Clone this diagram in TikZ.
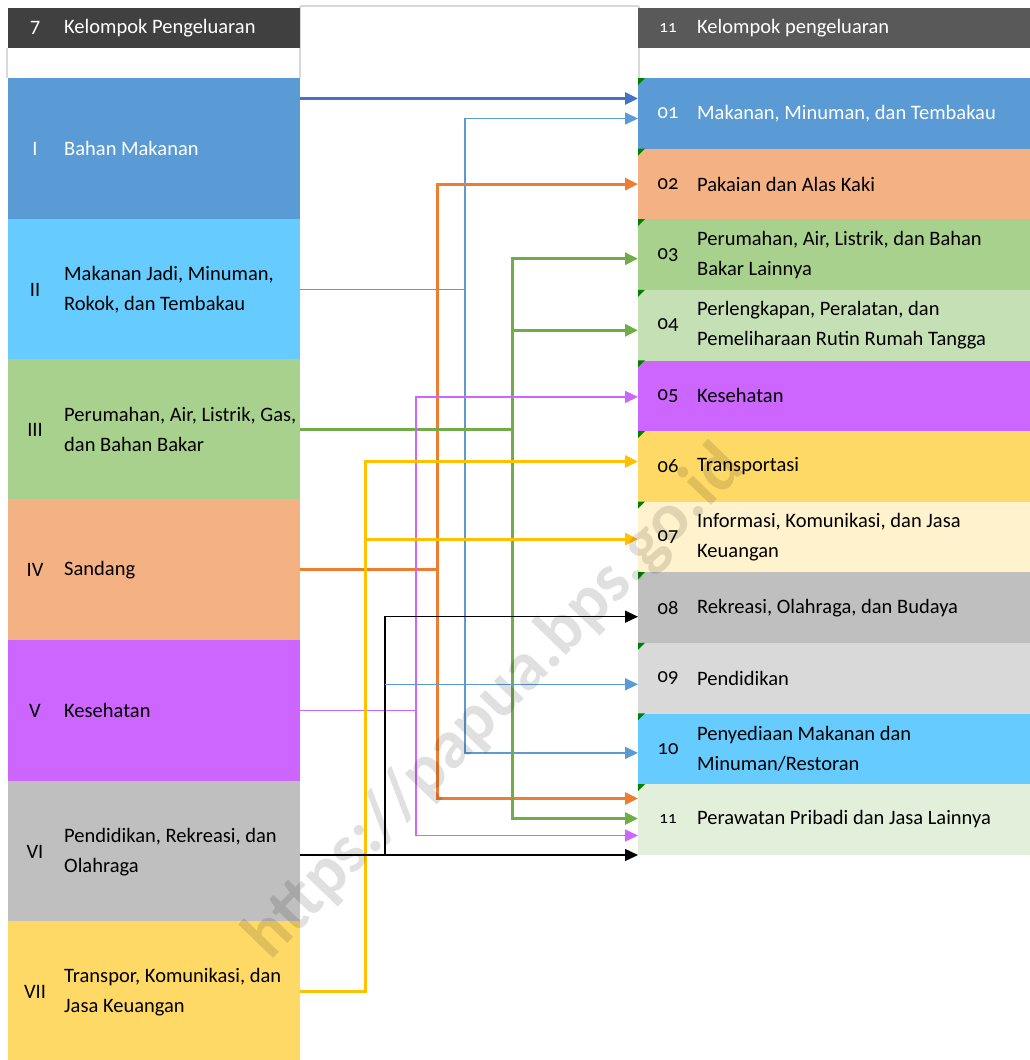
\documentclass[tikz,border=0pt]{standalone}
\usepackage{fontspec}
\setmainfont{Carlito}
\newfontfamily\oldnum[Numbers=OldStyle]{Carlito}
\usepackage{xcolor}
\usepackage{tikz}
\usetikzlibrary{calc}
\usetikzlibrary{arrows.meta}
\definecolor{hdL}{HTML}{404040}
\definecolor{hdR}{HTML}{595959}
\definecolor{gridgray}{HTML}{D9D9D9}
\definecolor{cI}{HTML}{5B9BD5}
\definecolor{cII}{HTML}{66CCFF}
\definecolor{cIII}{HTML}{A9D18E}
\definecolor{cIV}{HTML}{F4B183}
\definecolor{cV}{HTML}{CC66FF}
\definecolor{cVI}{HTML}{BFBFBF}
\definecolor{cVII}{HTML}{FFD966}
\definecolor{c04}{HTML}{C5E0B4}
\definecolor{c07}{HTML}{FFF2CC}
\definecolor{c09}{HTML}{D9D9D9}
\definecolor{c11}{HTML}{E2EFDA}
\definecolor{corner}{HTML}{008000}
\definecolor{wBlue}{HTML}{4472C4}
\definecolor{wSky}{HTML}{5B9BD5}
\definecolor{wOrange}{HTML}{ED7D31}
\definecolor{wGreen}{HTML}{70AD47}
\definecolor{wPurple}{HTML}{CC66FF}
\definecolor{wGold}{HTML}{FFC000}
\tikzset{
	lbox/.style={rectangle,inner sep=0pt,anchor=north west,minimum width=292pt,minimum height=141pt},
	rbox/.style={rectangle,inner sep=0pt,anchor=north west,minimum width=392pt,minimum height=70.6pt},
	hbox/.style={rectangle,inner sep=0pt,anchor=north west,minimum height=40pt},
	txt/.style={anchor=west,align=left,inner sep=0pt,font=\fontsize{20.5}{30}\selectfont},
	nr/.style={anchor=center,inner sep=0pt,font=\fontsize{20.5}{30}\selectfont},
	grid/.style={draw=gridgray,line width=2pt},
	wire/.style={line width=3pt},
	thinwire/.style={line width=1.5pt},
	tip/.style={-{Triangle[length=13pt,width=12pt]}},
}

\begin{document}
\begin{tikzpicture}[x=1pt,y=-1pt]
	\useasboundingbox (0,0) rectangle (1030,1060);
	% frame of the table
	\draw[grid] (300,6) -- (639,6);
	\draw[grid] (300,6) -- (300,78);
	\draw[grid] (639,6) -- (639,78);
	\draw[grid] (7,48) -- (7,78);
	% headers
	\node[hbox,fill=hdL,minimum width=292pt] (hL) at (8,8) {};
	\node[nr,text=white] (hLn) at ([xshift=27pt]hL.west) {7};
	\node[txt,text=white] (hLt) at ([xshift=56pt]hL.west) {Kelompok Pengeluaran};
	\node[hbox,fill=hdR,minimum width=392pt] (hR) at (638,8) {};
	\node[nr,text=white,font=\fontsize{17}{20}\selectfont\oldnum] (hRn) at ([xshift=30pt]hR.west) {11};
	\node[txt,text=white] (hRt) at ([xshift=59pt]hR.west) {Kelompok pengeluaran};
	% 7 groups
	\foreach \n/\y/\c/\tc/\r/\t in {
		1/78/cI/white/I/{Bahan Makanan},
		2/219/cII/black/II/{Makanan Jadi, Minuman,\\Rokok, dan Tembakau},
		3/359/cIII/black/III/{Perumahan, Air, Listrik, Gas,\\dan Bahan Bakar},
		4/499/cIV/black/IV/{Sandang},
		5/640/cV/black/V/{Kesehatan},
		6/781/cVI/black/VI/{Pendidikan, Rekreasi, dan\\Olahraga},
		7/921/cVII/black/VII/{Transpor, Komunikasi, dan\\Jasa Keuangan}}{
		\node[lbox,fill=\c] (g\n) at (8,\y) {};
		\node[nr,text=\tc] (gn\n) at ([xshift=27pt]g\n.west) {\r};
		\node[txt,text=\tc] (gt\n) at ([xshift=56pt]g\n.west) {\t};
	}
	% 11 groups
	\foreach \n/\y/\c/\tc/\t in {
		01/78/cI/white/{Makanan, Minuman, dan Tembakau},
		02/148.6/cIV/black/{Pakaian dan Alas Kaki},
		03/219.2/cIII/black/{Perumahan, Air, Listrik, dan Bahan\\Bakar Lainnya},
		04/289.8/c04/black/{Perlengkapan, Peralatan, dan\\Pemeliharaan Rutin Rumah Tangga},
		05/360.4/cV/black/{Kesehatan},
		06/431/cVII/black/{Transportasi},
		07/501.6/c07/black/{Informasi, Komunikasi, dan Jasa\\Keuangan},
		08/572.2/cVI/black/{Rekreasi, Olahraga, dan Budaya},
		09/642.8/c09/black/{Pendidikan},
		10/713.4/cII/black/{Penyediaan Makanan dan\\Minuman/Restoran},
		11/784/c11/black/{Perawatan Pribadi dan Jasa Lainnya}}{
		\node[rbox,fill=\c] (k\n) at (638,\y) {};
		\node[txt,text=\tc] (kt\n) at ([xshift=59pt]k\n.west) {\t};
		\fill[corner] (k\n.north west) -- ++(7,0) -- ++(-7,7) -- cycle;
	}
	\node[nr,font=\fontsize{20.5}{30}\selectfont\oldnum,text=white] (kn01) at ([xshift=30pt]k01.west) {01};
	\foreach \n in {02,03,04,05,06,07,08,09,10}
		\node[nr,font=\fontsize{20.5}{30}\selectfont\oldnum] (kn\n) at ([xshift=30pt]k\n.west) {\n};
	\node[nr,font=\fontsize{17}{20}\selectfont\oldnum] (kn11) at ([xshift=30pt]k11.west) {11};
	% arrow targets
	\coordinate (t01a) at ([yshift=15pt]k01.west);
	\coordinate (t01b) at ([yshift=-5pt]k01.west);
	\coordinate (t02) at (k02.west);
	\coordinate (t03) at ([yshift=-4pt]k03.west);
	\coordinate (t04) at ([yshift=-5pt]k04.west);
	\coordinate (t05) at ([yshift=-1pt]k05.west);
	\coordinate (t06) at ([yshift=5pt]k06.west);
	\coordinate (t07) at ([yshift=-2pt]k07.west);
	\coordinate (t08) at ([yshift=-9pt]k08.west);
	\coordinate (t09) at ([yshift=-6pt]k09.west);
	\coordinate (t10) at ([yshift=-4pt]k10.west);
	\coordinate (t11a) at ([yshift=21pt]k11.west);
	\coordinate (t11b) at ([yshift=1pt]k11.west);
	\coordinate (t11c) at ([yshift=-16pt]k11.west);
	\coordinate (t11d) at (k11.south west);
	% vertical buses
	\coordinate (bY) at (365,0);
	\coordinate (bK) at (385,0);
	\coordinate (bP) at (416,0);
	\coordinate (bO) at (437,0);
	\coordinate (bB) at (465,0);
	\coordinate (bG) at (512,0);
	% connectors
	\draw[wire,wBlue,tip] (g1.east |- t01a) -- (t01a);
	\draw[thinwire,wSky,tip] (g2.east) -| (bB |- t01b) -- (t01b);
	\draw[thinwire,wSky,tip] (g2.east -| bB) |- (t10);
	\draw[wire,wOrange,tip] (g4.east) -| (bO |- t02) -- (t02);
	\draw[wire,wOrange,tip] (g4.east -| bO) |- (t11a);
	\draw[wire,wGreen,tip] (g3.east) -| (bG |- t03) -- (t03);
	\draw[wire,wGreen,tip] (bG |- t04) -- (t04);
	\draw[wire,wGreen,tip] (g3.east -| bG) |- (t11b);
	\draw[thinwire,wPurple,tip] (g5.east) -| (bP |- t05) -- (t05);
	\draw[thinwire,wPurple,tip] (g5.east -| bP) |- (t11c);
	\draw[wire,wGold,tip] (g7.east) -| (bY |- t06) -- (t06);
	\draw[wire,wGold,tip] (bY |- t07) -- (t07);
	\draw[thinwire,black,tip] (g6.east |- t11d) -- (t11d);
	\draw[thinwire,black,tip] (bK |- t11d) |- (t08);
	\draw[thinwire,wSky,tip] (bK |- t09) -- (t09);
	% watermark
	\node[rotate=46,font=\fontsize{69}{69}\selectfont\bfseries,text=black,text opacity=0.12] (wm) at (495,703) {https://papua.bps.go.id};
\end{tikzpicture}
\end{document}
